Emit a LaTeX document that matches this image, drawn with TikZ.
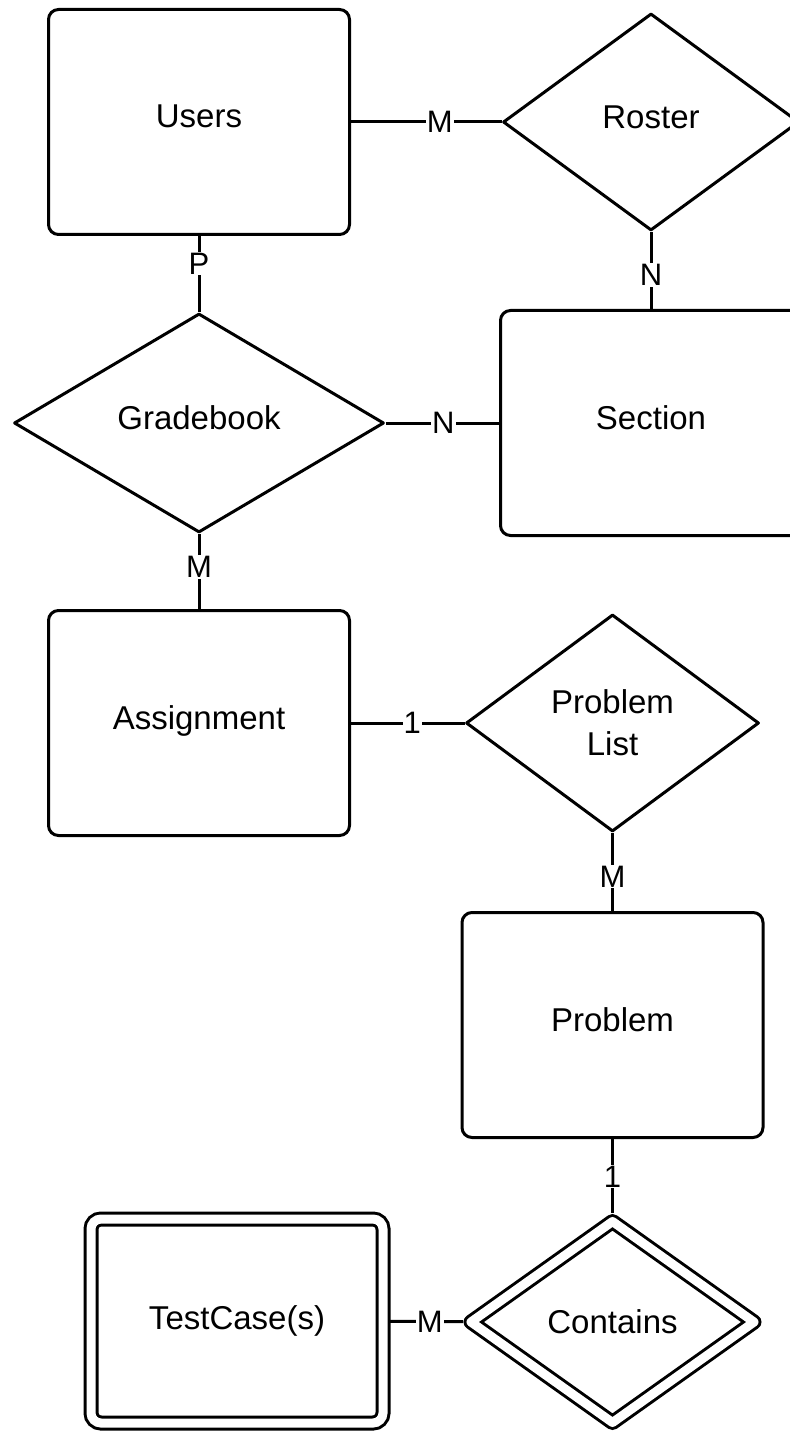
\documentclass[tikz,border=0pt]{standalone}
\usepackage{fontspec}
\setmainfont{Liberation Sans}
\usetikzlibrary{shapes.geometric}
\tikzset{
    entity/.style={rectangle, draw, rounded corners=5pt, line width=1.5pt, fill=white, minimum width=150.5pt, minimum height=112.5pt, align=center, font=\fontsize{16.5}{21}\selectfont, text depth=5.5pt},
    weakent/.style={entity, double, double distance=4.5pt, outer sep=3pt, minimum width=146pt, minimum height=102pt, text depth=},
    rel/.style={diamond, draw, line width=1.5pt, line join=round, fill=white, inner sep=0pt, align=center, font=\fontsize{16.5}{21}\selectfont, text depth=5pt},
    weakrel/.style={rel, double, double distance=4.5pt, outer sep=3pt, text depth=},
    card/.style={fill=white, inner sep=0.5pt, font=\fontsize{15.5}{18}\selectfont},
    link/.style={line width=1.5pt},
}

\begin{document}
\begin{tikzpicture}[x=0.5pt, y=-0.5pt]

\path[use as bounding box, clip] (0,0) rectangle (790,1433);

% ── Entities ──
\node[entity] (users) at (199,122) {Users};
\node[entity] (section) at (651,423) {Section};
\node[entity] (assign) at (199,723) {Assignment};
\node[entity] (problem) at (612.5,1025) {Problem};
\node[weakent] (testcase) at (237,1321) {TestCase(s)};

% ── Relationships ──
\node[rel, minimum width=148pt, minimum height=108.5pt] (roster) at (651,122) {Roster};
\node[rel, minimum width=185pt, minimum height=109.5pt] (grade) at (199,423) {Gradebook};
\node[rel, minimum width=146.5pt, minimum height=108.5pt, text depth=] (plist) at (612.5,723) {Problem\\List};
\node[weakrel, minimum width=144pt, minimum height=103pt] (contains) at (612.5,1322) {Contains};

% ── Connections ──
\draw[link] (users) -- node[card, pos=0.59] {M} (roster);
\draw[link] (roster) -- node[card, pos=0.56] {N} (section);
\draw[link] (users) -- node[card, pos=0.36] {P} (grade);
\draw[link] (grade) -- node[card, pos=0.51] {N} (section);
\draw[link] (grade) -- node[card, pos=0.44] {M} (assign);
\draw[link] (assign) -- node[card, pos=0.54] {1} (plist);
\draw[link] (plist) -- node[card, pos=0.56] {M} (problem);
\draw[link] (problem) -- node[card, pos=0.51] {1} (contains);
\draw[link] (testcase) -- node[card, pos=0.55] {M} (contains);

\end{tikzpicture}
\end{document}
